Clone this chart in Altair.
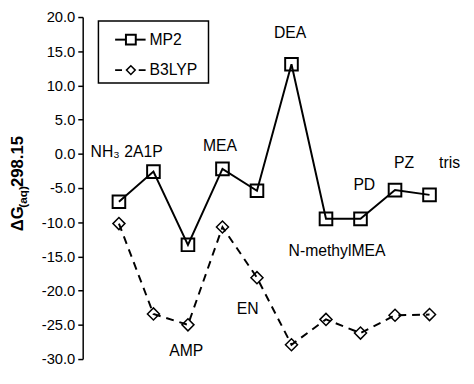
import altair as alt
import pandas as pd

# ---- data ----
compounds = ["NH3", "2A1P", "AMP", "MEA", "EN", "DEA", "N-methylMEA", "PD", "PZ", "tris"]
index = [1, 2, 3, 4, 5, 6, 7, 8, 9, 10]
mp2 = [-7.0, -2.6, -13.3, -2.2, -5.4, 13.1, -9.5, -9.5, -5.3, -6.0]
b3lyp = [-10.2, -23.4, -25.0, -10.7, -18.1, -27.9, -24.2, -26.2, -23.6, -23.5]

label_text = ["NH\u2083", "2A1P", "AMP", "MEA", "EN", "DEA", "N-methylMEA", "PD", "PZ", "tris"]
label_x = [0.60, 1.71, 2.95, 3.93, 4.73, 5.96, 7.32, 8.11, 9.26, 10.58]
label_y = [0.3, 0.3, -28.8, 1.2, -22.7, 17.6, -14.2, -4.6, -1.3, -1.3]

y_ticks = [-30, -25, -20, -15, -10, -5, 0, 5, 10, 15, 20]

FONT = "Liberation Sans"

df_mp2 = pd.DataFrame({"idx": index, "val": mp2, "name": compounds})
df_b3 = pd.DataFrame({"idx": index, "val": b3lyp, "name": compounds})
df_lab = pd.DataFrame({"idx": label_x, "val": label_y, "txt": label_text})
one = pd.DataFrame({"k": [0]})

xscale = alt.Scale(domain=[-0.05, 11.0], nice=False, zero=False)
yscale = alt.Scale(domain=[-30, 20], nice=False, zero=False)

X = alt.X("idx:Q", scale=xscale, axis=None)
Y = alt.Y(
    "val:Q",
    scale=yscale,
    axis=alt.Axis(
        values=y_ticks,
        title=None,
        grid=False,
        domainColor="black",
        domainWidth=1.5,
        tickColor="black",
        tickWidth=1.5,
        tickSize=5,
        labelPadding=3,
        labelFont=FONT,
        labelFontSize=15,
        labelColor="black",
        labelOverlap=False,
        labelFlush=False,
        labelExpr="(datum.value < 0 ? '-' : '') + format(abs(datum.value), '.1f')",
    ),
)

line_mp2 = alt.Chart(df_mp2).mark_line(color="black", strokeWidth=2).encode(x=X, y=Y)
line_b3 = alt.Chart(df_b3).mark_line(color="black", strokeWidth=2, strokeDash=[8, 6]).encode(x=X, y=Y)
pts_mp2 = alt.Chart(df_mp2).mark_point(
    shape="square", size=165, filled=False, color="black", strokeWidth=2, opacity=1
).encode(x=X, y=Y)
pts_b3 = alt.Chart(df_b3).mark_point(
    shape="diamond", size=150, filled=False, color="black", strokeWidth=1.5, opacity=1
).encode(x=X, y=Y)

labels = alt.Chart(df_lab).mark_text(
    font=FONT, fontSize=16, color="black", align="center", baseline="middle"
).encode(x=X, y=Y, text="txt:N")

# ---- manual legend (pixel positions within the plot area) ----
leg_box = alt.Chart(one).mark_rect(filled=False, stroke="black", strokeWidth=1.5).encode(
    x=alt.value(16), x2=alt.value(128), y=alt.value(4), y2=alt.value(67)
)
leg_line1 = alt.Chart(one).mark_rule(color="black", strokeWidth=2).encode(
    x=alt.value(33), x2=alt.value(64), y=alt.value(23)
)
leg_pt1 = alt.Chart(one).mark_point(
    shape="square", size=100, filled=True, fill="white", stroke="black", strokeWidth=2, opacity=1
).encode(x=alt.value(49), y=alt.value(23))
leg_line2 = alt.Chart(one).mark_rule(color="black", strokeWidth=2, strokeDash=[7, 5]).encode(
    x=alt.value(33), x2=alt.value(64), y=alt.value(54)
)
leg_pt2 = alt.Chart(one).mark_point(
    shape="diamond", size=80, filled=True, fill="white", stroke="black", strokeWidth=1.5, opacity=1
).encode(x=alt.value(49), y=alt.value(54))
leg_t1 = alt.Chart(one).mark_text(
    font=FONT, fontSize=16, color="black", align="left", baseline="middle"
).encode(x=alt.value(68), y=alt.value(23), text=alt.value("MP2"))
leg_t2 = alt.Chart(one).mark_text(
    font=FONT, fontSize=16, color="black", align="left", baseline="middle"
).encode(x=alt.value(68), y=alt.value(54), text=alt.value("B3LYP"))

# ---- rotated y title with subscript ----
t_main1 = alt.Chart(one).mark_text(
    font=FONT, fontSize=17, fontWeight="bold", color="black", angle=270,
    align="left", baseline="alphabetic"
).encode(x=alt.value(-61), y=alt.value(218), text=alt.value("\u0394G"))
t_sub = alt.Chart(one).mark_text(
    font=FONT, fontSize=12, fontWeight="bold", color="black", angle=270,
    align="left", baseline="alphabetic"
).encode(x=alt.value(-57), y=alt.value(194), text=alt.value("(aq)"))
t_main2 = alt.Chart(one).mark_text(
    font=FONT, fontSize=17, fontWeight="bold", color="black", angle=270,
    align="left", baseline="alphabetic"
).encode(x=alt.value(-61), y=alt.value(173), text=alt.value("298.15"))

chart = alt.layer(
    line_mp2, line_b3, pts_mp2, pts_b3, labels,
    leg_box, leg_line1, leg_pt1, leg_line2, leg_pt2, leg_t1, leg_t2,
    t_main1, t_sub, t_main2,
).properties(
    width=388,
    height=348,
    autosize=alt.AutoSizeParams(type="none"),
    padding={"left": 76, "top": 6, "right": 2, "bottom": 12},
    background="white",
).configure_view(strokeWidth=0)

chart.save("out.html", embed_options={"renderer": "svg", "actions": False})
